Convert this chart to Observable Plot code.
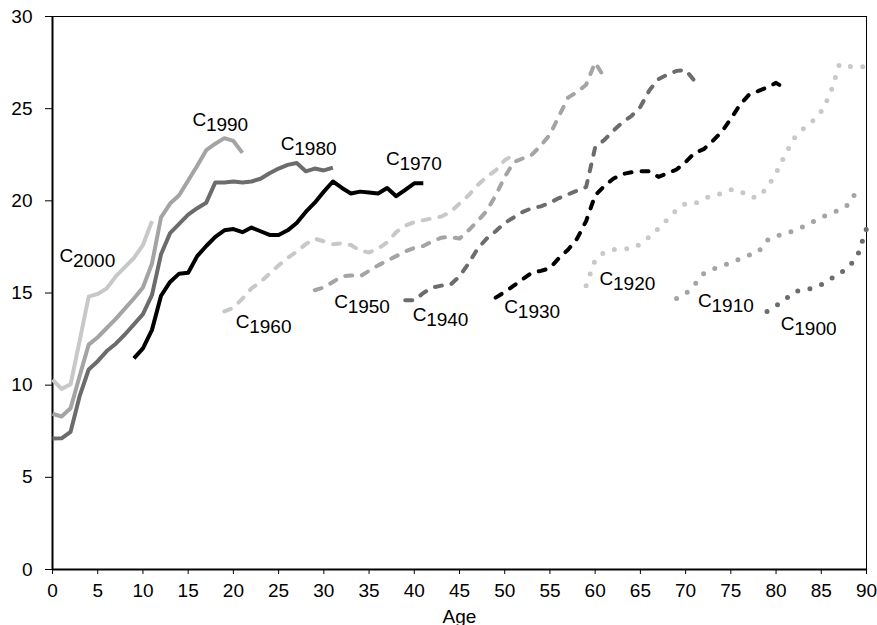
<!DOCTYPE html>
<html>
<head>
<meta charset="utf-8">
<script src="https://cdn.jsdelivr.net/npm/d3@7"></script>
<script src="https://cdn.jsdelivr.net/npm/@observablehq/plot@0.6"></script>
<style>
  html, body { margin: 0; padding: 0; background: #fff; }
</style>
</head>
<body>
<div id="chart"></div>
<script>
// ---- data ----
const xTicks = [0, 5, 10, 15, 20, 25, 30, 35, 40, 45, 50, 55, 60, 65, 70, 75, 80, 85, 90];
const yTicks = [0, 5, 10, 15, 20, 25, 30];

const c2000Start = 0;
const c2000 = [10.3, 9.8, 10.05, 12.4, 14.8, 14.95, 15.25, 15.9, 16.4, 16.9, 17.6, 18.9];

const c1990Start = 0;
const c1990 = [8.45, 8.3, 8.75, 10.5, 12.2, 12.6, 13.1, 13.6, 14.15, 14.7, 15.3, 16.6, 19.1, 19.85, 20.3, 21.1, 21.9, 22.75, 23.1, 23.4, 23.25, 22.6];

const c1980Start = 0;
const c1980 = [7.1, 7.12, 7.47, 9.4, 10.85, 11.3, 11.85, 12.25, 12.75, 13.3, 13.85, 14.9, 17.1, 18.25, 18.75, 19.25, 19.6, 19.9, 21.0, 21.0, 21.05, 21.0, 21.05, 21.2, 21.5, 21.75, 21.95, 22.05, 21.6, 21.75, 21.65, 21.8];

const c1970Start = 9;
const c1970 = [11.45, 12.0, 13.0, 14.85, 15.6, 16.05, 16.1, 17.0, 17.55, 18.05, 18.4, 18.47, 18.3, 18.55, 18.35, 18.15, 18.15, 18.4, 18.8, 19.4, 19.9, 20.5, 21.05, 20.7, 20.4, 20.5, 20.45, 20.4, 20.7, 20.25, 20.6, 20.95, 20.95];

const c1960Start = 19;
const c1960 = [14.0, 14.2, 14.7, 15.25, 15.6, 16.05, 16.5, 16.9, 17.25, 17.65, 17.95, 17.8, 17.65, 17.7, 17.6, 17.3, 17.2, 17.4, 17.75, 18.3, 18.65, 18.85, 18.95, 19.05, 19.15, 19.4, 19.85, 20.3, 20.85, 21.3, 21.65, 22.2, 22.5];

const c1950Start = 29;
const c1950 = [15.15, 15.3, 15.6, 15.9, 15.95, 15.9, 16.2, 16.5, 16.75, 17.0, 17.25, 17.45, 17.55, 17.8, 18.0, 18.05, 17.95, 18.4, 18.9, 19.45, 20.3, 21.3, 22.1, 22.3, 22.5, 23.0, 23.6, 24.6, 25.6, 25.9, 26.3, 27.5, 26.7];

const c1940Start = 39;
const c1940 = [14.6, 14.6, 15.0, 15.3, 15.4, 15.45, 15.9, 16.6, 17.4, 17.95, 18.35, 18.8, 19.1, 19.4, 19.6, 19.7, 19.9, 20.15, 20.35, 20.55, 20.75, 22.9, 23.3, 23.8, 24.25, 24.6, 25.1, 26.0, 26.6, 26.85, 27.05, 27.1, 26.5];

const c1930Start = 49;
const c1930 = [14.75, 15.05, 15.4, 15.75, 16.1, 16.2, 16.35, 16.9, 17.35, 17.95, 18.9, 20.3, 20.8, 21.2, 21.45, 21.55, 21.6, 21.6, 21.3, 21.5, 21.7, 22.1, 22.6, 22.8, 23.25, 23.75, 24.45, 25.2, 25.75, 25.95, 26.15, 26.4, 26.1];

const c1920Start = 59;
const c1920 = [15.4, 16.8, 17.2, 17.35, 17.4, 17.4, 17.65, 18.05, 18.5, 19.0, 19.5, 19.85, 19.85, 20.1, 20.3, 20.4, 20.6, 20.55, 20.2, 20.2, 20.7, 21.5, 22.5, 23.4, 23.9, 24.3, 24.85, 25.8, 27.4, 27.3, 27.25, 27.3];

const c1910Start = 69;
const c1910 = [14.7, 14.95, 15.45, 16.05, 16.3, 16.45, 16.65, 16.85, 17.05, 17.2, 17.85, 18.1, 18.2, 18.4, 18.6, 18.85, 19.1, 19.3, 19.5, 19.8, 20.6];

const c1900Start = 79;
const c1900 = [14.0, 14.3, 14.65, 15.05, 15.2, 15.25, 15.45, 15.75, 16.05, 16.4, 17.0, 18.5];

// label anchors (data units: age, value) for each cohort label
const labelNames = ["2000", "1990", "1980", "1970", "1960", "1950", "1940", "1930", "1920", "1910", "1900"];
const labelAge   = [0.77, 15.47, 25.24, 36.87, 20.26, 31.14, 39.82, 49.96, 60.48, 71.37, 80.52];
const labelValue = [16.67, 24.05, 22.75, 21.93, 13.11, 14.2, 13.47, 13.9, 15.41, 14.23, 13.0];

// ---- build table ----
const seriesDefs = [
  {name: "C2000", start: c2000Start, values: c2000, color: "#c8c8c8", style: "solid"},
  {name: "C1990", start: c1990Start, values: c1990, color: "#a4a4a4", style: "solid"},
  {name: "C1980", start: c1980Start, values: c1980, color: "#6c6c6c", style: "solid"},
  {name: "C1970", start: c1970Start, values: c1970, color: "#000000", style: "solid"},
  {name: "C1960", start: c1960Start, values: c1960, color: "#c8c8c8", style: "dash"},
  {name: "C1950", start: c1950Start, values: c1950, color: "#a4a4a4", style: "dash"},
  {name: "C1940", start: c1940Start, values: c1940, color: "#6c6c6c", style: "dash"},
  {name: "C1930", start: c1930Start, values: c1930, color: "#000000", style: "dash"},
  {name: "C1920", start: c1920Start, values: c1920, color: "#c8c8c8", style: "dot"},
  {name: "C1910", start: c1910Start, values: c1910, color: "#a4a4a4", style: "dot"},
  {name: "C1900", start: c1900Start, values: c1900, color: "#6c6c6c", style: "dot"}
];

const labels = labelNames.map((n, i) => ({year: n, x: labelAge[i], y: labelValue[i]}));

const lineMarks = seriesDefs.map(s => {
  const rows = s.values.map((v, i) => ({age: s.start + i, value: v}));
  const opts = {x: "age", y: "value", stroke: s.color, strokeLinejoin: "round"};
  if (s.style === "solid") {
    Object.assign(opts, {strokeWidth: 4, strokeLinecap: "butt"});
  } else if (s.style === "dash") {
    Object.assign(opts, {strokeWidth: 4, strokeLinecap: "round", strokeDasharray: "7,10"});
  } else {
    Object.assign(opts, {strokeWidth: 5, strokeLinecap: "round", strokeDasharray: "0,12.4"});
  }
  return Plot.line(rows, opts);
});

const chart = Plot.plot({
  width: 877,
  height: 625,
  marginLeft: 52,
  marginRight: 11,
  marginTop: 16,
  marginBottom: 56,
  style: {fontFamily: "'Liberation Sans', Arial, Helvetica, sans-serif", fontSize: "19px", color: "#000", background: "#fff", overflow: "visible"},
  x: {domain: [0, 90]},
  y: {domain: [0, 30]},
  marks: [
    Plot.frame({stroke: "#000", strokeWidth: 1}),
    Plot.axisX({ticks: xTicks, tickSize: 5, tickPadding: 9, tickFormat: d => String(d), label: null, fontSize: 19}),
    Plot.axisY({ticks: yTicks, tickSize: 7, tickPadding: 13, tickFormat: d => String(d), label: null, fontSize: 19}),
    Plot.ruleX([0], {stroke: "#000", strokeWidth: 2}),
    Plot.ruleY([0], {stroke: "#000", strokeWidth: 2}),
    ...lineMarks,
    Plot.text(labels, {x: "x", y: "y", text: () => "C", textAnchor: "start", lineAnchor: "bottom", fontSize: 19, fill: "#000"}),
    Plot.text(labels, {x: "x", y: "y", text: "year", textAnchor: "start", lineAnchor: "bottom", dx: 13.5, dy: 5, fontSize: 19, fill: "#000"}),
    Plot.text(["Age"], {frameAnchor: "bottom", lineAnchor: "bottom", dy: 53, fontSize: 19, fill: "#000"})
  ]
});

document.getElementById("chart").appendChild(chart);
</script>
</body>
</html>
